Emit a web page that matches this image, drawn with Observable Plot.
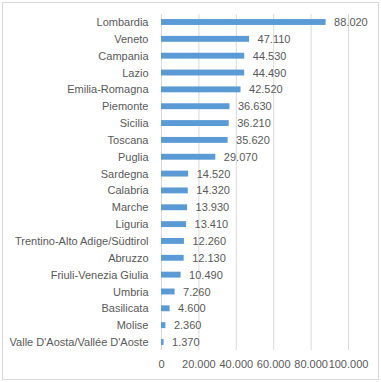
<!DOCTYPE html>
<html><head><meta charset="utf-8">
<script src="https://cdn.jsdelivr.net/npm/d3@7"></script>
<script src="https://cdn.jsdelivr.net/npm/@observablehq/plot@0.6"></script>
<style>
body{margin:0;background:#fff;}
#wrap{position:relative;width:381px;height:382px;}
#border{position:absolute;left:2px;top:2px;width:375px;height:376px;border:1px solid #d9d9d9;pointer-events:none;}
</style>
</head><body>
<div id="wrap"><div id="border"></div></div>
<script>
const regions = ["Lombardia","Veneto","Campania","Lazio","Emilia-Romagna","Piemonte","Sicilia","Toscana","Puglia","Sardegna","Calabria","Marche","Liguria","Trentino-Alto Adige/Südtirol","Abruzzo","Friuli-Venezia Giulia","Umbria","Basilicata","Molise","Valle D'Aosta/Vallée D'Aoste"];
const values = [88020,47110,44530,44490,42520,36630,36210,35620,29070,14520,14320,13930,13410,12260,12130,10490,7260,4600,2360,1370];
const xTicks = [0,20000,40000,60000,80000,100000];

const data = regions.map((r,i)=>({region:r,value:values[i]}));
const loc = d3.formatLocale({decimal:",",thousands:".",grouping:[3],currency:["€",""]});
const fmt = loc.format(",d");

const chart = Plot.plot({
  width:381, height:382,
  marginLeft:161, marginRight:33, marginTop:14, marginBottom:32,
  style:{fontFamily:"Liberation Sans, sans-serif", fontSize:"11px", color:"#595959", background:"transparent"},
  x:{domain:[0,100000], ticks:xTicks, tickFormat:fmt, tickSize:0, tickPadding:10, label:null, grid:false},
  y:{domain:regions, paddingInner:0.65, paddingOuter:0.3, round:false, tickSize:0, tickPadding:13, label:null},
  marks:[
    Plot.gridX(xTicks,{stroke:"#d9d9d9", strokeOpacity:1}),
    Plot.barX(data,{x:"value", y:"region", fill:"#5b9bd5"}),
    Plot.text(data,{x:"value", y:"region", text:d=>fmt(d.value), textAnchor:"start", dx:8, fill:"#595959", fontSize:11})
  ]
});
document.getElementById("wrap").prepend(chart);
chart.style.position="absolute"; chart.style.left="0"; chart.style.top="0";
</script>
</body></html>
